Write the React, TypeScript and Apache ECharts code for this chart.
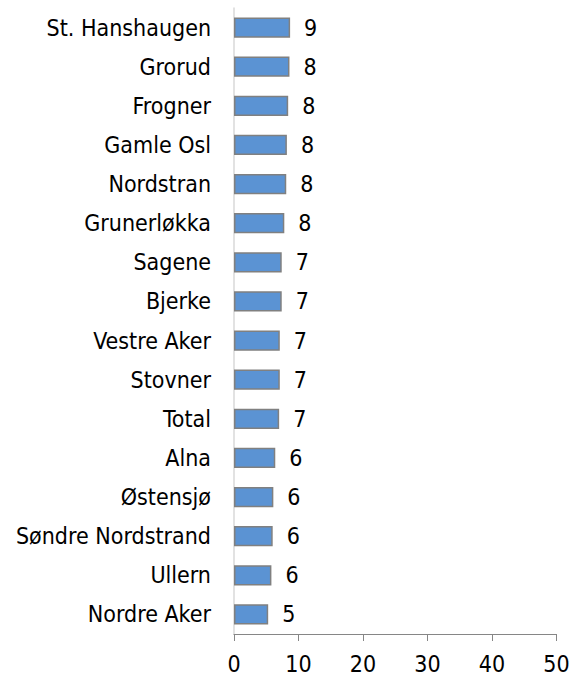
import React, { useEffect, useRef } from "react";
import * as echarts from "echarts";

const categories = [
  "St. Hanshaugen", "Grorud", "Frogner", "Gamle Osl", "Nordstran", "Grunerløkka",
  "Sagene", "Bjerke", "Vestre Aker", "Stovner", "Total", "Alna", "Østensjø",
  "Søndre Nordstrand", "Ullern", "Nordre Aker",
];
const values = [8.7, 8.6, 8.4, 8.2, 8.1, 7.8, 7.4, 7.4, 7.1, 7.1, 7.0, 6.4, 6.1, 6.0, 5.8, 5.3];
const valueLabels = ["9", "8", "8", "8", "8", "8", "7", "7", "7", "7", "7", "6", "6", "6", "6", "5"];
const xTicks = [0, 10, 20, 30, 40, 50];

const FONT = "'DejaVu Sans Condensed', 'DejaVu Sans', sans-serif";

export default function App() {
  const ref = useRef<HTMLDivElement>(null);
  useEffect(() => {
    if (!ref.current) return;
    const chart = echarts.init(ref.current, null, { renderer: "svg" });
    chart.setOption({
      animation: false,
      grid: { left: 234, right: 16.5, top: 8, bottom: 42, containLabel: false },
      xAxis: {
        type: "value",
        min: xTicks[0],
        max: xTicks[xTicks.length - 1],
        interval: 10,
        splitLine: { show: false },
        axisLine: { show: true, lineStyle: { color: "#868686", width: 1 } },
        axisTick: { show: true, length: 7, lineStyle: { color: "#868686" } },
        axisLabel: { color: "#000", fontSize: 23, fontFamily: FONT, margin: 18 },
      },
      yAxis: {
        type: "category",
        data: categories,
        inverse: true,
        axisLine: { show: true, lineStyle: { color: "#d9d9d9", width: 1.5 } },
        axisTick: { show: false },
        axisLabel: { color: "#000", fontSize: 23, fontFamily: FONT, margin: 23 },
      },
      series: [
        {
          type: "bar",
          data: values,
          barWidth: "52%",
          itemStyle: { color: "#5B93D3", borderColor: "#808080", borderWidth: 1.5 },
          label: {
            show: true,
            position: "right",
            distance: 14,
            color: "#000",
            fontSize: 23,
            fontFamily: FONT,
            formatter: (p: any) => valueLabels[p.dataIndex],
          },
        },
      ],
    });
    return () => chart.dispose();
  }, []);
  return (
    <div
      ref={ref}
      style={{ position: "absolute", left: 0, top: 0, width: 573, height: 676, background: "#fff" }}
    />
  );
}
